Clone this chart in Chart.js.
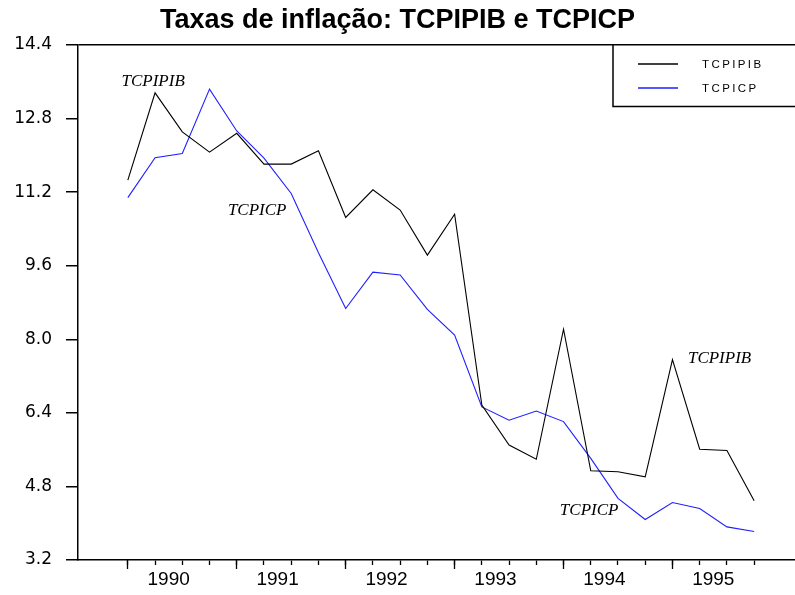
<!DOCTYPE html>
<html>
<head>
<meta charset="utf-8">
<title>Taxas de inflação: TCPIPIB e TCPICP</title>
<script src="https://cdn.jsdelivr.net/npm/chart.js@4.4.1/dist/chart.umd.min.js"></script>
<style>
  html, body { margin: 0; padding: 0; background: #fff; }
  canvas { display: block; }
</style>
</head>
<body>
<canvas id="chart" width="795" height="595"></canvas>
<script>
// Quarterly inflation rates, 1990Q1 .. 1995Q4
const quarters = [
  '1990Q1', '1990Q2', '1990Q3', '1990Q4',
  '1991Q1', '1991Q2', '1991Q3', '1991Q4',
  '1992Q1', '1992Q2', '1992Q3', '1992Q4',
  '1993Q1', '1993Q2', '1993Q3', '1993Q4',
  '1994Q1', '1994Q2', '1994Q3', '1994Q4',
  '1995Q1', '1995Q2', '1995Q3', '1995Q4'
];
const tcpipib = [11.46, 13.36, 12.51, 12.07, 12.48, 11.81, 11.81, 12.10,
                 10.65, 11.25, 10.81, 9.83, 10.72, 6.57, 5.70, 5.39,
                 8.22, 5.14, 5.12, 5.01, 7.56, 5.61, 5.58, 4.49];
const tcpicp  = [11.08, 11.95, 12.04, 13.44, 12.53, 11.94, 11.17, 9.88,
                 8.67, 9.46, 9.40, 8.65, 8.09, 6.53, 6.24, 6.44,
                 6.21, 5.41, 4.54, 4.08, 4.45, 4.32, 3.92, 3.82];

const yearLabels = ['1990', '1991', '1992', '1993', '1994', '1995'];
const yTicks = [3.2, 4.8, 6.4, 8.0, 9.6, 11.2, 12.8, 14.4];
const yTickLabels = ['3.2', '4.8', '6.4', '8.0', '9.6', '11.2', '12.8', '14.4'];

// in-plot series labels (data coordinates: quarter index, rate)
const noteText = ['TCPIPIB', 'TCPICP', 'TCPIPIB', 'TCPICP'];
const noteX = [0.93, 4.75, 21.73, 16.94];
const noteY = [13.60, 10.79, 7.59, 4.27];

/* ── derived tick positions ── */
// year label sits in the middle of its four quarters
const yearPos = yearLabels.map(yr => {
    const idx = quarters.map((q, i) => q.startsWith(yr) ? i : -1).filter(i => i >= 0);
    return idx.reduce((a, b) => a + b, 0) / idx.length;
});
const yearStart = yearLabels.map(yr => quarters.findIndex(q => q.startsWith(yr)));
const quarterIdx = quarters.map((q, i) => i);

const X_MIN = -1.83, X_MAX = 24.5;
const sansFont = "'Liberation Sans', Arial, sans-serif";

const overlay = {
    id: 'overlay',
    afterDraw(chart) {
        const { ctx, chartArea, scales: { x, y } } = chart;
        ctx.save();

        // series labels drawn inside the plot
        ctx.fillStyle = '#000';
        ctx.font = "italic 17px 'Liberation Serif', 'Times New Roman', serif";
        ctx.textAlign = 'center';
        ctx.textBaseline = 'middle';
        noteText.forEach((t, i) => {
            ctx.fillText(t, x.getPixelForValue(noteX[i]), y.getPixelForValue(noteY[i]));
        });

        // legend box in the top-right corner
        const left = chartArea.right - 182;
        const top = chartArea.top;
        ctx.lineWidth = 1.5;
        ctx.strokeStyle = '#000';
        ctx.beginPath();
        ctx.moveTo(chartArea.right + 2, top + 61.5);
        ctx.lineTo(left, top + 61.5);
        ctx.lineTo(left, top);
        ctx.stroke();

        ctx.font = '11.5px ' + sansFont;
        ctx.textAlign = 'left';
        ctx.letterSpacing = '2.4px';
        chart.data.datasets.forEach((ds, i) => {
            const ly = top + 19 + i * 24;
            ctx.strokeStyle = ds.borderColor;
            ctx.lineWidth = 1.3;
            ctx.beginPath();
            ctx.moveTo(left + 25, ly);
            ctx.lineTo(left + 65, ly);
            ctx.stroke();
            ctx.fillStyle = '#000';
            ctx.fillText(ds.label, left + 89, ly + 1);
        });
        ctx.restore();
    }
};

new Chart(document.getElementById('chart'), {
    type: 'line',
    data: {
        datasets: [{
            label: 'TCPIPIB',
            data: tcpipib.map((v, i) => ({ x: i, y: v })),
            borderColor: '#000000',
            borderWidth: 1.1,
            pointRadius: 0,
            tension: 0
        }, {
            label: 'TCPICP',
            data: tcpicp.map((v, i) => ({ x: i, y: v })),
            borderColor: '#1f1fff',
            borderWidth: 1.1,
            pointRadius: 0,
            tension: 0
        }]
    },
    options: {
        responsive: false,
        animation: false,
        layout: { padding: { left: 0, right: 0, top: 0, bottom: 0 } },
        plugins: {
            legend: { display: false },
            tooltip: { enabled: false },
            title: {
                display: true,
                text: 'Taxas de inflação: TCPIPIB e TCPICP',
                color: '#000',
                font: { family: sansFont, size: 27, weight: 'bold', lineHeight: 1 },
                padding: { top: 7, bottom: 11 }
            }
        },
        scales: {
            x: {
                type: 'linear',
                min: X_MIN,
                max: X_MAX,
                weight: 1,
                afterBuildTicks: s => {
                    s.ticks = quarterIdx.concat(yearPos).map(v => ({ value: v }));
                },
                afterFit: s => { s.height = 35; },
                border: { display: true, color: '#000', width: 1.5 },
                grid: {
                    drawOnChartArea: false,
                    tickLength: 5,
                    tickWidth: 1.3,
                    tickColor: c => Number.isInteger(c.tick.value) ? '#000' : 'rgba(0,0,0,0)'
                },
                ticks: {
                    autoSkip: false,
                    maxRotation: 0,
                    padding: 3,
                    color: '#000',
                    font: { family: sansFont, size: 19 },
                    callback: v => {
                        const k = yearPos.indexOf(v);
                        return k >= 0 ? yearLabels[k] : '';
                    }
                }
            },
            // longer tick marks at the start of each year
            xMajor: {
                type: 'linear',
                position: 'bottom',
                min: X_MIN,
                max: X_MAX,
                weight: 0,
                afterBuildTicks: s => { s.ticks = yearStart.map(v => ({ value: v })); },
                afterFit: s => { s.height = 0; },
                border: { display: false },
                grid: { drawOnChartArea: false, tickLength: 9, tickWidth: 1.3, tickColor: '#000' },
                ticks: { display: false }
            },
            y: {
                min: 3.2,
                max: 14.4,
                afterBuildTicks: s => { s.ticks = yTicks.map(v => ({ value: v })); },
                afterFit: s => { s.width = 78; },
                border: { display: true, color: '#000', width: 1.5 },
                grid: {
                    tickLength: 12,
                    lineWidth: 1.5,
                    tickColor: '#000',
                    color: c => c.tick && c.tick.value === 14.4 ? '#000' : 'rgba(0,0,0,0)'
                },
                ticks: {
                    padding: 14,
                    color: '#000',
                    font: { family: "'DejaVu Sans', sans-serif", size: 17 },
                    callback: v => yTickLabels[yTicks.indexOf(v)]
                }
            }
        }
    },
    plugins: [overlay]
});
</script>
</body>
</html>
